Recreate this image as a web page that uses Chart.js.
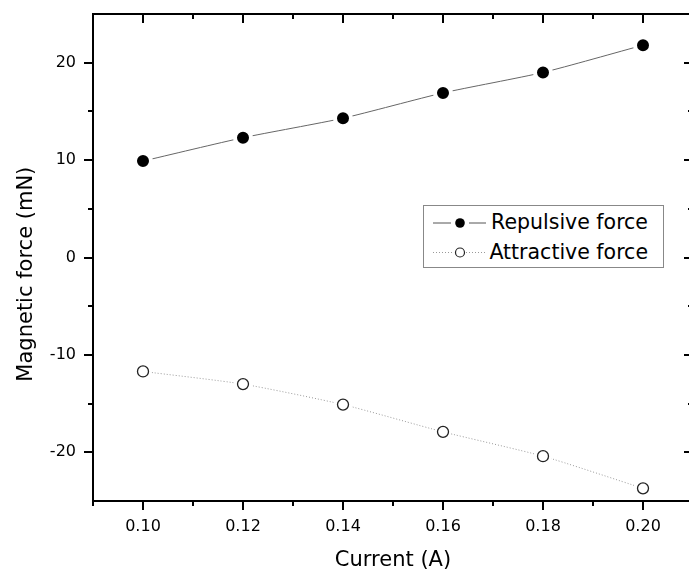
<!DOCTYPE html>
<html>
<head>
<meta charset="utf-8">
<script src="https://cdn.jsdelivr.net/npm/chart.js@4"></script>
<style>
    html, body { margin: 0; padding: 0; background: #fff; overflow: hidden; }
    #wrap { position: relative; width: 705px; height: 573px; }
    #legend {
        position: absolute; left: 423px; top: 205px; width: 239px; height: 61px;
        border: 1px solid #888; background: #fff;
    }
    #legend svg { position: absolute; left: 0; top: 0; }
    .legend-label {
        position: absolute; left: 0; width: 224px; text-align: right;
        font-family: "DejaVu Sans"; font-size: 20.5px; line-height: 24px;
        color: #000; white-space: nowrap;
    }
</style>
</head>
<body>
<div id="wrap">
    <canvas id="chart" width="705" height="573"></canvas>
    <div id="legend">
        <svg width="239" height="61">
            <line x1="9" y1="17" x2="27" y2="17" stroke="#555" stroke-width="1"/>
            <circle cx="36" cy="17" r="4.8" fill="#000"/>
            <line x1="45" y1="17" x2="62" y2="17" stroke="#555" stroke-width="1"/>
            <line x1="9" y1="46.5" x2="30" y2="46.5" stroke="#999" stroke-width="1" stroke-dasharray="1 2"/>
            <circle cx="36" cy="46.5" r="4.5" fill="#fff" stroke="#222" stroke-width="1.2"/>
            <line x1="42" y1="46.5" x2="62" y2="46.5" stroke="#999" stroke-width="1" stroke-dasharray="1 2"/>
        </svg>
        <div class="legend-label" id="lab0" style="top:4px"></div>
        <div class="legend-label" id="lab1" style="top:34px"></div>
    </div>
</div>
<script>
// data
const currents = [0.10, 0.12, 0.14, 0.16, 0.18, 0.20];
const repulsive = [9.9, 12.3, 14.3, 16.9, 19.0, 21.8];
const attractive = [-11.7, -13.0, -15.1, -17.9, -20.4, -23.7];
const seriesNames = ['Repulsive force', 'Attractive force'];

// ticks
const xMajor = [0.10, 0.12, 0.14, 0.16, 0.18, 0.20];
const xMinor = [0.09, 0.11, 0.13, 0.15, 0.17, 0.19, 0.21];
const yMajor = [-20, -10, 0, 10, 20];
const yMinor = [-15, -5, 5, 15];

document.getElementById('lab0').textContent = seriesNames[0];
document.getElementById('lab1').textContent = seriesNames[1];

const toPoints = (ys) => currents.map((x, i) => ({ x: x, y: ys[i] }));

// top/right frame plus major and minor tick marks on all four sides
const frameTicks = {
    id: 'frameTicks',
    afterDraw(chart) {
        const { ctx, chartArea: a, scales } = chart;
        const x = scales.x, y = scales.y;
        ctx.save();
        ctx.strokeStyle = '#000';
        ctx.lineWidth = 2;
        ctx.beginPath();
        ctx.moveTo(a.left - 1, a.top);
        ctx.lineTo(a.right + 1, a.top);
        ctx.moveTo(a.right, a.top);
        ctx.lineTo(a.right, a.bottom);
        ctx.stroke();

        ctx.beginPath();
        const vTick = (v, len) => {
            const px = Math.round(x.getPixelForValue(v));
            ctx.moveTo(px, a.bottom);
            ctx.lineTo(px, a.bottom + len);
            ctx.moveTo(px, a.top);
            ctx.lineTo(px, a.top + len);
        };
        const hTick = (v, len) => {
            const py = Math.round(y.getPixelForValue(v));
            ctx.moveTo(a.left - len, py);
            ctx.lineTo(a.left, py);
            ctx.moveTo(a.right - len, py);
            ctx.lineTo(a.right, py);
        };
        xMajor.forEach(v => vTick(v, 9));
        xMinor.forEach(v => vTick(v, 5));
        yMajor.forEach(v => hTick(v, 9));
        yMinor.forEach(v => hTick(v, 5));
        ctx.stroke();
        ctx.restore();
    }
};

const font = 'DejaVu Sans';

new Chart(document.getElementById('chart'), {
    type: 'line',
    data: {
        datasets: [
            {
                label: seriesNames[0],
                data: toPoints(repulsive),
                borderColor: '#666',
                borderWidth: 1,
                tension: 0.2,
                pointRadius: 8,
                pointBackgroundColor: '#000',
                pointBorderColor: '#fff',
                pointBorderWidth: 4,
                order: 2
            },
            {
                // dotted line with white halos round the open markers
                label: seriesNames[1],
                data: toPoints(attractive),
                borderColor: '#999',
                borderWidth: 1,
                borderDash: [1, 2],
                tension: 0.2,
                pointRadius: 8.5,
                pointBackgroundColor: '#fff',
                pointBorderWidth: 0,
                order: 3
            },
            {
                label: seriesNames[1] + ' markers',
                data: toPoints(attractive),
                showLine: false,
                pointRadius: 5.5,
                pointBackgroundColor: '#fff',
                pointBorderColor: '#222',
                pointBorderWidth: 1.3,
                order: 1
            }
        ]
    },
    options: {
        responsive: false,
        animation: false,
        devicePixelRatio: 1,
        layout: { padding: { top: 14, right: 10, bottom: 0, left: 0 } },
        plugins: {
            legend: { display: false },
            tooltip: { enabled: false }
        },
        events: [],
        scales: {
            x: {
                type: 'linear',
                min: 0.09,
                max: 0.21,
                afterBuildTicks: (s) => { s.ticks = xMajor.map(v => ({ value: v })); },
                afterFit: (s) => { s.height = 72; },
                grid: { display: false, drawTicks: false },
                border: { display: true, color: '#000', width: 2 },
                ticks: {
                    padding: 16,
                    color: '#000',
                    font: { family: font, size: 16 },
                    maxRotation: 0,
                    callback: (v) => v.toFixed(2)
                },
                title: {
                    display: true,
                    text: 'Current (A)',
                    color: '#000',
                    font: { family: font, size: 21 },
                    padding: { top: 0, bottom: 0 }
                }
            },
            y: {
                min: -25,
                max: 25,
                afterBuildTicks: (s) => { s.ticks = yMajor.map(v => ({ value: v })); },
                // fixed width; the label padding is horizontal only, so drop the vertical slack it asks for
                afterFit: (s) => { s.width = 93; s.paddingTop = 0; s.paddingBottom = 0; },
                grid: { display: false, drawTicks: false },
                border: { display: true, color: '#000', width: 2 },
                ticks: {
                    padding: 17,
                    color: '#000',
                    font: { family: font, size: 16 },
                    callback: (v) => String(v)
                },
                title: {
                    display: true,
                    // trailing spaces push the title a little below the axis centre, as in the original
                    text: 'Magnetic force (mN)     ',
                    color: '#000',
                    font: { family: font, size: 21 },
                    padding: { top: 14, bottom: 0 }
                }
            }
        }
    },
    plugins: [frameTicks]
});
</script>
</body>
</html>
